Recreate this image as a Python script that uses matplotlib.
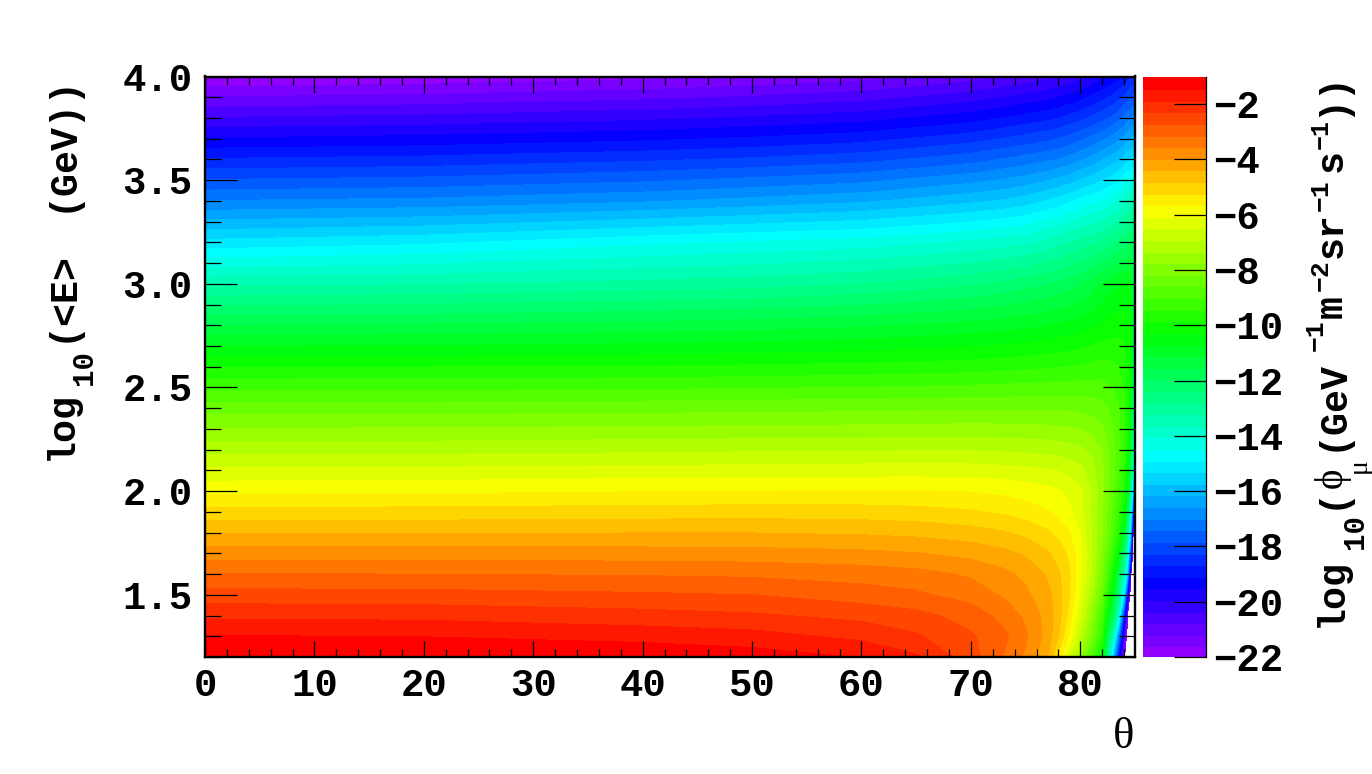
import colorsys
import numpy as np
import matplotlib
matplotlib.use("Agg")
import matplotlib.pyplot as plt
from matplotlib.colors import ListedColormap

plt.rcParams["font.family"] = ["Liberation Mono", "DejaVu Sans"]
plt.rcParams["font.weight"] = "bold"

# -30 = below the scale, left white
theta = [0, 20, 40, 50, 60, 65, 70, 73, 75, 77, 78, 79, 80, 81, 82, 83, 83.5, 84, 84.3, 84.6, 84.8, 85]
log_e = [1.2, 1.3, 1.4, 1.5, 1.6, 1.7, 1.8, 1.9, 2.0, 2.1, 2.2, 2.4, 2.6, 2.8, 3.0, 3.2, 3.4, 3.6, 3.8, 4.0]

row_12 = [-1.02, -1.02, -1.05, -1.2, -1.44, -1.78, -2.5, -3.12, -3.6, -4.36, -5.3, -6.4, -7.6, -8.9, -10.2, -15.7, -19, -21.7, -24, -30, -30, -30]
row_13 = [-1.4, -1.43, -1.58, -1.68, -1.95, -2.2, -2.62, -3.0, -3.45, -4.1, -4.75, -5.7, -6.9, -8.0, -9.5, -13.6, -16.8, -20.6, -22.5, -30, -30, -30]
row_14 = [-1.93, -1.96, -2.1, -2.2, -2.38, -2.55, -2.85, -3.25, -3.6, -4.1, -4.6, -5.35, -6.4, -7.6, -9.0, -11.8, -14, -18.6, -21.7, -30, -30, -30]
row_15 = [-2.51, -2.53, -2.62, -2.68, -2.9, -3.02, -3.28, -3.58, -3.85, -4.22, -4.6, -5.15, -6.1, -7.2, -8.5, -10.8, -12.6, -15.2, -19, -23, -30, -30]
row_16 = [-3.09, -3.1, -3.14, -3.18, -3.28, -3.38, -3.58, -3.82, -4.05, -4.42, -4.72, -5.15, -5.95, -6.9, -8.1, -10, -11.5, -13.5, -15.5, -21, -30, -30]
row_17 = [-3.73, -3.73, -3.75, -3.77, -3.84, -3.92, -4.08, -4.25, -4.42, -4.72, -4.97, -5.3, -5.9, -6.8, -7.9, -9.4, -10.4, -12.3, -14, -18, -22, -30]
row_18 = [-4.4, -4.39, -4.37, -4.37, -4.42, -4.48, -4.6, -4.75, -4.9, -5.13, -5.32, -5.6, -6.05, -6.85, -7.7, -8.9, -9.6, -11, -12.6, -15.5, -21, -30]
row_19 = [-5.07, -5.04, -5.0, -4.98, -5.0, -5.05, -5.15, -5.27, -5.4, -5.58, -5.75, -5.95, -6.35, -6.95, -7.7, -8.7, -9.3, -10, -11.5, -14, -18, -25]
row_20 = [-5.72, -5.7, -5.64, -5.62, -5.6, -5.6, -5.64, -5.72, -5.8, -5.92, -6.0, -6.13, -6.35, -6.9, -7.6, -8.5, -9.1, -9.7, -10.7, -12.6, -15.5, -21]
row_21 = [-6.38, -6.36, -6.3, -6.27, -6.25, -6.24, -6.25, -6.3, -6.35, -6.42, -6.48, -6.6, -6.75, -7.1, -7.65, -8.4, -8.9, -9.5, -10.2, -11.6, -14, -19]
row_22 = [-7.05, -7.03, -6.98, -6.95, -6.93, -6.92, -6.92, -6.95, -6.98, -7.02, -7.07, -7.13, -7.22, -7.4, -7.75, -8.4, -8.8, -9.3, -9.9, -11, -13, -17]
row_24 = [-8.35, -8.34, -8.3, -8.28, -8.25, -8.23, -8.2, -8.2, -8.2, -8.2, -8.2, -8.22, -8.25, -8.3, -8.4, -8.7, -8.95, -9.3, -9.7, -10.5, -12, -15]
row_26 = [-9.85, -9.83, -9.8, -9.75, -9.7, -9.65, -9.6, -9.55, -9.5, -9.45, -9.42, -9.4, -9.35, -9.3, -9.25, -9.3, -9.4, -9.6, -9.8, -10.2, -11, -13]
row_28 = [-11.5, -11.45, -11.35, -11.28, -11.15, -11.05, -10.95, -10.85, -10.77, -10.68, -10.6, -10.55, -10.45, -10.35, -10.2, -10.05, -10, -10, -10.1, -10.4, -10.9, -12]
row_30 = [-13.3, -13.22, -13.05, -12.95, -12.75, -12.6, -12.42, -12.25, -12.1, -11.95, -11.85, -11.72, -11.55, -11.35, -11.05, -10.8, -10.7, -10.65, -10.65, -10.75, -11, -11.6]
row_32 = [-15.15, -14.95, -14.55, -14.4, -14.25, -14.1, -13.95, -13.8, -13.7, -13.5, -13.35, -13.2, -13.0, -12.85, -12.7, -12.45, -12.3, -12.15, -12.05, -11.95, -11.9, -12.0]
row_34 = [-16.95, -16.85, -16.6, -16.4, -16.2, -16.0, -15.8, -15.65, -15.5, -15.25, -15.1, -14.95, -14.75, -14.6, -14.45, -14.2, -14, -13.8, -13.65, -13.5, -13.4, -13.4]
row_36 = [-18.6, -18.5, -18.3, -18.15, -17.95, -17.75, -17.55, -17.35, -17.2, -17.05, -16.95, -16.8, -16.6, -16.4, -16.15, -15.9, -15.75, -15.55, -15.4, -15.3, -15.2, -15.2]
row_38 = [-20.3, -20.2, -20.0, -19.85, -19.65, -19.45, -19.25, -19.05, -18.9, -18.75, -18.65, -18.5, -18.35, -18.15, -17.95, -17.7, -17.5, -17.3, -17.15, -17, -16.9, -16.8]
row_40 = [-22, -21.9, -21.7, -21.55, -21.35, -21.15, -20.95, -20.75, -20.6, -20.45, -20.35, -20.2, -20.05, -19.85, -19.6, -19.35, -19.2, -19, -18.85, -18.7, -18.6, -18.5]

flux = np.array([row_12, row_13, row_14, row_15, row_16, row_17, row_18, row_19, row_20, row_21,
                 row_22, row_24, row_26, row_28, row_30, row_32, row_34, row_36, row_38, row_40])

x_ticks = [0, 10, 20, 30, 40, 50, 60, 70, 80]
y_ticks = [1.5, 2.0, 2.5, 3.0, 3.5, 4.0]
z_ticks = [-22, -20, -18, -16, -14, -12, -10, -8, -6, -4, -2]

W, H = 1372, 774


def px_axes(fig, left, top, right, bottom):
    return fig.add_axes([left / W, 1 - bottom / H, (right - left) / W, (bottom - top) / H])


def up_text(fig, s, x, y, size=27.5, **kwargs):
    # rotated label piece, x = baseline, y = where the text starts (pixels)
    fig.text(x / W, 1 - y / H, s, rotation=90, rotation_mode="anchor", ha="left", va="baseline", fontsize=size, **kwargs)


# root "pretty" palette: 50 hues from violet to red
band_colors = [colorsys.hls_to_rgb((280 - (i + 1) * 5.6) / 360, 0.5, 1.0) for i in range(50)]
levels = np.linspace(-22, -1, 51)

fig = plt.figure(figsize=(W / 100, H / 100), dpi=100)
ax = px_axes(fig, 205, 76.5, 1135, 657)
cs = ax.contourf(theta, log_e, flux, levels=levels, cmap=ListedColormap(band_colors), antialiased=False)
ax.axvspan(84.87, 85, color="#ff0000", lw=0)

ax.set_xlim(0, 85)
ax.set_ylim(1.2, 4.0)
ax.set_xticks(x_ticks)
ax.set_xticks(range(0, 86, 2), minor=True)
ax.set_yticks(y_ticks)
ax.set_yticks(np.arange(1.2, 4.01, 0.1), minor=True)
ax.set_yticklabels([f"{v:.1f}" for v in y_ticks])
ax.tick_params(axis="x", which="major", direction="in", top=True, length=11.5, width=0.9, labelsize=28, pad=8)
ax.tick_params(axis="x", which="minor", direction="in", top=True, length=5.8, width=0.9)
ax.tick_params(axis="y", which="major", direction="in", right=True, length=23, width=0.9, labelsize=28, pad=9)
ax.tick_params(axis="y", which="minor", direction="in", right=True, length=11.5, width=0.9)
for spine in ax.spines.values():
    spine.set_linewidth(1.7)

cax = px_axes(fig, 1143, 76.5, 1206, 657)
cbar = fig.colorbar(cs, cax=cax)
cbar.solids.set_edgecolor("face")
cbar.set_ticks(z_ticks)
cbar.set_ticklabels([f"\u2212{abs(v)}" for v in z_ticks])
cax.minorticks_off()
cax.tick_params(axis="y", which="major", direction="in", right=True, left=False, length=23, width=0.9, labelsize=28, pad=5)
cbar.outline.set_visible(False)
cax.spines["right"].set_visible(True)
cax.spines["right"].set_linewidth(0.9)

# y axis title
up_text(fig, "log", 72, 460)
up_text(fig, "10", 92, 385, size=21)
up_text(fig, "(<E>", 72, 342)
up_text(fig, "(GeV))", 72, 212)

# colour scale title
up_text(fig, "log", 1342, 627)
up_text(fig, "10", 1363, 549, size=21)
up_text(fig, "(", 1342, 509)
up_text(fig, "\u03d5", 1342, 488, size=28, family=["Liberation Serif", "DejaVu Serif"], weight="normal")
up_text(fig, "\u03bc", 1366, 473, size=20, family=["Liberation Serif", "DejaVu Serif"], weight="normal")
up_text(fig, "(GeV", 1342, 451)
up_text(fig, "\u22121", 1323, 351, size=19)
up_text(fig, "m", 1342, 318)
up_text(fig, "\u22122", 1328, 291, size=19)
up_text(fig, "sr", 1342, 258)
up_text(fig, "\u22121", 1328, 211, size=19)
up_text(fig, "s", 1342, 172)
up_text(fig, "\u22121", 1328, 149, size=18)
up_text(fig, "))", 1342, 117)

fig.text(1124 / W, 1 - 737 / H, "\u03b8", family="Liberation Serif", weight="normal", ha="center", va="center", fontsize=32)

fig.savefig("out.png", dpi=100)
